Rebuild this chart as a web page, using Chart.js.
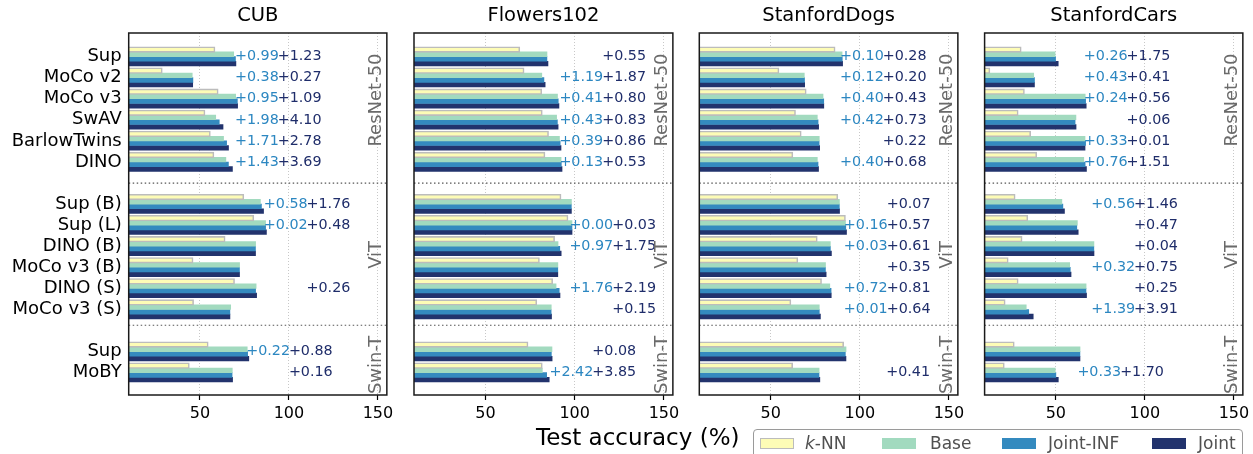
<!DOCTYPE html>
<html>
<head>
<meta charset="utf-8">
<script src="https://cdn.jsdelivr.net/npm/chart.js@4.4.1/dist/chart.umd.min.js"></script>
<style>
  html, body { margin: 0; padding: 0; background: #fff; }
  body { position: relative; width: 1253px; height: 454px; overflow: hidden; font-family: "DejaVu Sans", sans-serif; }
  canvas.panel { position: absolute; top: 0; }
  #xtitle { position: absolute; left: 536px; top: 425.5px; font-size: 23px; line-height: 23px; color: #000; white-space: nowrap; }
  #legend { position: absolute; left: 753px; top: 429px; width: 488px; height: 40px; border: 1px solid #9a9a9a; border-radius: 4px; background: #fff; }
  .swatch { position: absolute; top: 7.5px; width: 33.5px; height: 11px; box-sizing: border-box; }
  .entry { position: absolute; top: 4.5px; font-size: 17px; line-height: 17px; color: #505050; white-space: nowrap; }
</style>
</head>
<body>
<canvas class="panel" id="panel0"></canvas>
<canvas class="panel" id="panel1"></canvas>
<canvas class="panel" id="panel2"></canvas>
<canvas class="panel" id="panel3"></canvas>
<div id="xtitle">Test accuracy (%)</div>
<div id="legend"></div>
<script>
// ---- data -------------------------------------------------------------
const datasetNames = ['CUB', 'Flowers102', 'StanfordDogs', 'StanfordCars'];
const backbones = ['ResNet-50', 'ViT', 'Swin-T'];
const models = ['Sup', 'MoCo v2', 'MoCo v3', 'SwAV', 'BarlowTwins', 'DINO',
                'Sup (B)', 'Sup (L)', 'DINO (B)', 'MoCo v3 (B)', 'DINO (S)', 'MoCo v3 (S)',
                'Sup', 'MoBY'];
const backboneOfModel = [0, 0, 0, 0, 0, 0, 1, 1, 1, 1, 1, 1, 2, 2];
const seriesNames = ['k-NN', 'Base', 'Joint-INF', 'Joint'];
const xTicks = [50, 100, 150];

// test accuracy (%) of k-NN and Base; gains of Joint-INF and Joint over Base
const cubKnn       = [58.2, 28.6, 60.0, 52.6, 55.6, 57.6, 74.4, 80.0, 63.9, 45.9, 69.2, 46.2, 54.4, 43.8];
const cubBase      = [69.0, 45.7, 70.1, 58.9, 63.3, 64.6, 84.0, 86.9, 81.3, 72.3, 81.6, 67.3, 76.6, 68.2];
const cubGainInf   = [0.99, 0.38, 0.95, 1.98, 1.71, 1.43, 0.58, 0.02, -0.08, -0.06, -0.31, -0.45, 0.22, -0.12];
const cubGainJoint = [1.23, 0.27, 1.09, 4.10, 2.78, 3.69, 1.76, 0.48, -0.04, -0.03, 0.26, -0.42, 0.88, 0.16];

const flowersKnn       = [69.0, 71.4, 81.3, 81.6, 85.1, 83.1, 92.1, 96.0, 88.5, 80.0, 87.4, 78.5, 73.6, 81.6];
const flowersBase      = [84.5, 81.6, 90.4, 89.9, 91.5, 92.4, 98.2, 98.5, 90.7, 90.6, 89.6, 86.9, 87.3, 81.9];
const flowersGainInf   = [-0.04, 1.19, 0.41, 0.43, 0.39, 0.13, -0.06, 0.00, 0.97, -0.05, 1.76, -0.08, -0.35, 2.42];
const flowersGainJoint = [0.55, 1.87, 0.80, 0.83, 0.86, 0.53, -0.02, 0.03, 1.75, -0.03, 2.19, 0.15, 0.08, 3.85];

const dogsKnn       = [85.9, 54.4, 69.7, 63.7, 66.9, 62.2, 87.4, 91.7, 75.9, 65.0, 78.3, 61.1, 90.7, 62.1];
const dogsBase      = [90.1, 68.9, 79.4, 76.2, 77.3, 76.2, 88.6, 92.0, 83.5, 80.8, 83.2, 77.3, 92.3, 77.2];
const dogsGainInf   = [0.10, 0.12, 0.40, 0.42, -0.08, 0.40, -0.05, 0.16, 0.03, -0.04, 0.72, 0.01, -0.38, -0.06];
const dogsGainJoint = [0.28, 0.20, 0.43, 0.73, 0.22, 0.68, 0.07, 0.57, 0.61, 0.35, 0.81, 0.64, -0.04, 0.41];

const carsKnn       = [30.3, 12.7, 32.1, 28.6, 35.6, 39.0, 26.9, 34.0, 30.8, 23.0, 28.6, 21.3, 26.4, 20.8];
const carsBase      = [49.6, 37.6, 66.5, 61.3, 66.4, 65.7, 53.4, 62.1, 71.4, 57.8, 67.0, 33.4, 63.6, 49.7];
const carsGainInf   = [0.26, 0.43, 0.24, -0.48, 0.33, 0.76, 0.56, -0.32, -0.05, 0.32, -0.06, 1.39, -0.07, 0.33];
const carsGainJoint = [1.75, 0.41, 0.56, 0.06, 0.01, 1.51, 1.46, 0.47, 0.04, 0.75, 0.25, 3.91, -0.03, 1.70];

// ---- styling ----------------------------------------------------------
const FONT = '"DejaVu Sans", sans-serif';
Chart.defaults.font.family = FONT;
Chart.defaults.color = '#000';

const seriesFill   = ['#fdfcb6', '#a2dabf', '#348abf', '#22336d'];
const knnEdge      = '#bcbcbc';
const gainInfColor = '#2c87c1';
const gainJointColor = '#1f2d6a';

const panels = [
  { knn: cubKnn, base: cubBase, gainInf: cubGainInf, gainJoint: cubGainJoint },
  { knn: flowersKnn, base: flowersBase, gainInf: flowersGainInf, gainJoint: flowersGainJoint },
  { knn: dogsKnn, base: dogsBase, gainInf: dogsGainInf, gainJoint: dogsGainJoint },
  { knn: carsKnn, base: carsBase, gainInf: carsGainInf, gainJoint: carsGainJoint },
];

// one empty slot between backbone groups
const rowPos = models.map((m, i) => i + backboneOfModel[i]);
const labelAt = v => { const i = rowPos.indexOf(v); return i >= 0 ? models[i] : ''; };

// frame, group separators, gain annotations and backbone names
const decorations = {
  id: 'decorations',
  afterDatasetsDraw(chart, args, opts) {
    const { ctx, chartArea: a, scales: { x, y } } = chart;
    const p = opts.panel;
    ctx.save();

    ctx.strokeStyle = '#555';
    ctx.lineWidth = 1.2;
    ctx.setLineDash([1.5, 2.5]);
    for (const s of opts.separators) {
      const py = y.getPixelForValue(s);
      ctx.beginPath(); ctx.moveTo(a.left, py); ctx.lineTo(a.right, py); ctx.stroke();
    }
    ctx.setLineDash([]);

    ctx.font = '14.3px ' + FONT;
    ctx.textAlign = 'left';
    ctx.textBaseline = 'middle';
    backbones.forEach((name, g) => {
      const rows = models.map((m, i) => i).filter(i => backboneOfModel[i] === g);
      const reach = Math.max(...rows.map(i => Math.max(
        p.knn[i], p.base[i], p.base[i] + p.gainInf[i], p.base[i] + p.gainJoint[i])));
      rows.forEach(i => {
        const py = y.getPixelForValue(rowPos[i]);
        if (p.gainInf[i] >= 0) {
          ctx.fillStyle = gainInfColor;
          ctx.fillText('+' + p.gainInf[i].toFixed(2), x.getPixelForValue(reach + opts.infShift), py);
        }
        if (p.gainJoint[i] >= 0) {
          ctx.fillStyle = gainJointColor;
          ctx.fillText('+' + p.gainJoint[i].toFixed(2), x.getPixelForValue(reach + opts.jointShift), py);
        }
      });
    });

    ctx.font = '18px ' + FONT;
    ctx.fillStyle = '#6a6a6a';
    ctx.textAlign = 'center';
    backbones.forEach((name, g) => {
      ctx.save();
      ctx.translate(x.getPixelForValue(opts.backboneX), y.getPixelForValue(opts.backboneY[g]));
      ctx.rotate(-Math.PI / 2);
      ctx.fillText(name, 0, 0);
      ctx.restore();
    });

    ctx.strokeStyle = '#1a1a1a';
    ctx.lineWidth = 1.5;
    ctx.strokeRect(a.left, a.top, a.right - a.left, a.bottom - a.top);
    ctx.restore();
  }
};

// ---- layout of the four panels ------------------------------------------
const H = 454;
const plotBottom = 395;
const plotW = 259.5, firstLeft = 128.7, pitch = 285.3;

panels.forEach((p, k) => {
  const plotLeft = firstLeft + pitch * k;
  const canvasLeft = k === 0 ? 0 : Math.round(plotLeft) - 10;
  const axisW = plotLeft - canvasLeft;
  const canvasW = Math.round(axisW + plotW + 10);
  const cv = document.getElementById('panel' + k);
  cv.width = canvasW; cv.height = H;
  cv.style.left = canvasLeft + 'px';
  cv.style.width = canvasW + 'px'; cv.style.height = H + 'px';

  const values = [
    p.knn,
    p.base,
    p.base.map((b, i) => +(b + p.gainInf[i]).toFixed(2)),
    p.base.map((b, i) => +(b + p.gainJoint[i]).toFixed(2)),
  ];

  new Chart(cv, {
    type: 'bar',
    data: {
      datasets: seriesNames.map((name, s) => ({
        label: name,
        data: values[s].map((v, i) => ({ x: v, y: rowPos[i] })),
        backgroundColor: seriesFill[s],
        borderColor: s === 0 ? knnEdge : seriesFill[s],
        borderWidth: s === 0 ? 1.6 : 0,
        borderSkipped: false,
        inflateAmount: s === 0 ? 0.8 : 0.3,
        categoryPercentage: 0.89,
        barPercentage: 1.0,
      }))
    },
    options: {
      indexAxis: 'y',
      responsive: false,
      animation: false,
      layout: { padding: { left: 0, right: canvasW - axisW - plotW, top: 0, bottom: 0 } },
      scales: {
        x: {
          type: 'linear', min: 10, max: 155, bounds: 'data', offset: false,
          afterBuildTicks: s => { s.ticks = xTicks.map(v => ({ value: v })); },
          afterFit: s => { s.height = H - plotBottom; },
          grid: { color: '#c2c2c2', lineWidth: 0.9, drawTicks: true, tickLength: 5,
                  tickColor: '#000', tickWidth: 1.2, offset: false },
          border: { display: false, dash: [1, 2] },
          ticks: { font: { size: 16 }, color: '#000', padding: 4.4, maxRotation: 0 },
        },
        y: {
          type: 'linear', reverse: true, min: -1.12, max: 16.06, bounds: 'data', offset: false,
          afterBuildTicks: s => { s.ticks = rowPos.map(v => ({ value: v })); },
          afterFit: s => { s.width = axisW; },
          grid: { display: false, drawTicks: false, offset: false },
          border: { display: false },
          ticks: {
            display: k === 0, autoSkip: false, padding: 7,
            font: { size: 18 }, color: '#000',
            callback: v => labelAt(v),
          },
        }
      },
      plugins: {
        legend: { display: false },
        tooltip: { enabled: false },
        title: {
          display: true, text: datasetNames[k], fullSize: false, color: '#000',
          font: { size: 19.5, weight: 'normal' }, padding: { top: 4.6, bottom: 5 },
        },
        decorations: {
          panel: p, separators: [6, 12.75],
          infShift: -1.5, jointShift: 22.5,
          backboneX: 149, backboneY: [2.06, 9.41, 14.63],
        },
      }
    },
    plugins: [decorations]
  });
});

// ---- legend -------------------------------------------------------------
const legend = document.getElementById('legend');
const swatchLeft = [6, 128, 248, 398];
const textLeft = [51, 176, 294, 444];
seriesNames.forEach((name, s) => {
  const sw = document.createElement('div');
  sw.className = 'swatch';
  sw.style.left = swatchLeft[s] + 'px';
  sw.style.background = seriesFill[s];
  if (s === 0) sw.style.border = '1.6px solid ' + knnEdge;
  legend.appendChild(sw);
  const t = document.createElement('div');
  t.className = 'entry';
  t.style.left = textLeft[s] + 'px';
  if (name === 'k-NN') t.innerHTML = '<i>k</i>-NN';
  else t.textContent = name;
  legend.appendChild(t);
});
</script>
</body>
</html>
